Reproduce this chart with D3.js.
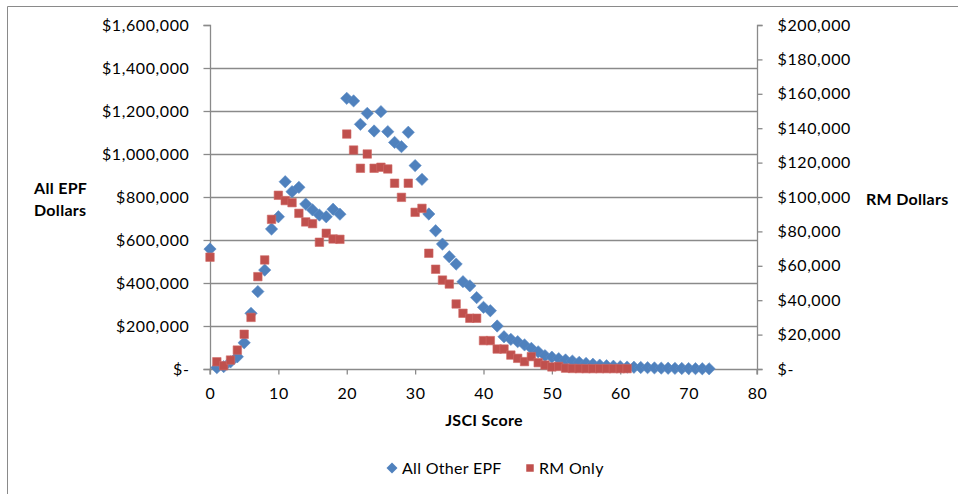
<!DOCTYPE html>
<html>
<head>
<meta charset="utf-8">
<script src="https://cdn.jsdelivr.net/npm/d3@7"></script>
<style>
  html, body { margin: 0; padding: 0; background: #fff; }
  svg { display: block; }
  text { font-family: Lato, "Open Sans", sans-serif; fill: #000; }
</style>
</head>
<body>
<svg id="chart" width="968" height="494"></svg>
<script>
// ---- data ----
const jsciScoresEPF = d3.range(0, 74);
const allOtherEPF = [
  558000, 6000, 11000, 33000, 57000, 122000, 259000, 360000, 460000, 651000,
  708000, 871000, 825000, 845000, 767000, 740000, 716000, 708000, 743000, 720000,
  1259000, 1247000, 1138000, 1189000, 1107000, 1197000, 1104000, 1054000, 1034000, 1101000,
  946000, 882000, 721000, 643000, 581000, 522000, 488000, 406000, 387000, 332000,
  287000, 271000, 200000, 150000, 138000, 127000, 112000, 96000, 80000, 62000,
  55000, 48000, 42000, 37000, 31000, 26000, 22000, 18000, 15000, 13000,
  11000, 9000, 8000, 7000, 6000, 5000, 4000, 3500, 3000, 2500,
  2000, 1500, 1000, 800
];
const jsciScoresRM = d3.range(0, 62);
const rmOnly = [
  65000, 4200, 1900, 5200, 11000, 20200, 30000, 53700, 63400, 87000,
  101000, 97900, 96700, 90500, 85500, 84500, 73700, 78900, 75600, 75400,
  136600, 127300, 116700, 125000, 116700, 117300, 116300, 108000, 99800, 108000,
  91100, 93400, 67300, 58000, 51700, 49400, 37800, 32400, 29500, 29500,
  16500, 16500, 11600, 11600, 8100, 6200, 4300, 7200, 3700, 2300,
  1200, 1500, 500, 300, 250, 200, 200, 200, 200, 200,
  200, 200
];
const xTicks = [0, 10, 20, 30, 40, 50, 60, 70, 80];
const leftTicks = [0, 200000, 400000, 600000, 800000, 1000000, 1200000, 1400000, 1600000];
const rightTicks = [0, 20000, 40000, 60000, 80000, 100000, 120000, 140000, 160000, 180000, 200000];
const seriesNames = ["All Other EPF", "RM Only"];
const seriesColors = ["#4F81BD", "#C0504D"];

// ---- layout ----
const svg = d3.select("#chart");
const plot = { left: 210, right: 757, top: 25, bottom: 369 };
const gridColor = "#8a8a8a";
const fmt = d => d === 0 ? "$-" : "$" + d3.format(",")(d);

const x = d3.scaleLinear().domain([0, 80]).range([plot.left, plot.right]);
const yL = d3.scaleLinear().domain([0, 1600000]).range([plot.bottom, plot.top]);
const yR = d3.scaleLinear().domain([0, 200000]).range([plot.bottom, plot.top]);

// outer chart border (top and left visible)
svg.append("path")
  .attr("d", "M7.5,494 L7.5,6.5 L958,6.5")
  .attr("fill", "none").attr("stroke", "#8a8a8a").attr("stroke-width", 1);

// gridlines
svg.append("g").selectAll("line")
  .data(leftTicks.filter(t => t > 0 && t < 1600000))
  .join("line")
  .attr("x1", plot.left).attr("x2", plot.right)
  .attr("y1", d => Math.round(yL(d)) + 0.5).attr("y2", d => Math.round(yL(d)) + 0.5)
  .attr("stroke", gridColor).attr("stroke-width", 1.3);

// left axis
const gL = svg.append("g").attr("transform", `translate(${plot.left + 0.5},0)`)
  .call(d3.axisLeft(yL).tickValues(leftTicks).tickFormat(fmt).tickSize(7).tickPadding(14));
// right axis
const gR = svg.append("g").attr("transform", `translate(${plot.right + 0.5},0)`)
  .call(d3.axisRight(yR).tickValues(rightTicks).tickFormat(fmt).tickSize(5).tickPadding(15));
// bottom axis
const gB = svg.append("g").attr("transform", `translate(0,${plot.bottom + 0.5})`)
  .call(d3.axisBottom(x).tickValues(xTicks).tickFormat(d3.format("d")).tickSize(5).tickPadding(13));

[gL, gR, gB].forEach(g => {
  g.select(".domain").attr("stroke", gridColor).attr("stroke-width", 1.3);
  g.selectAll(".tick line").attr("stroke", gridColor).attr("stroke-width", 1.3);
  g.selectAll(".tick text").attr("font-family", "Lato, sans-serif").attr("font-size", 16)
    .attr("letter-spacing", 0.6).attr("fill", "#000");
});
gL.select(".domain").attr("d", `M-7,${plot.top + 0.5}H0V${plot.bottom + 0.5}H-7`);
gR.select(".domain").attr("d", `M5,${plot.top + 0.5}H0V${plot.bottom + 0.5}H5`);
gB.select(".domain").attr("d", `M${plot.left},5V0H${plot.right}V5`);

// axis titles
svg.append("text").attr("x", 34).attr("y", 194).attr("font-size", 16).attr("font-weight", "bold")
  .attr("letter-spacing", 0.3).text("All EPF");
svg.append("text").attr("x", 34).attr("y", 216).attr("font-size", 16).attr("font-weight", "bold")
  .attr("letter-spacing", 0.3).text("Dollars");
svg.append("text").attr("x", 866).attr("y", 205).attr("font-size", 16).attr("font-weight", "bold")
  .attr("letter-spacing", 0.3).text("RM Dollars");
svg.append("text").attr("x", 484).attr("y", 426).attr("text-anchor", "middle")
  .attr("font-size", 16).attr("font-weight", "bold").attr("letter-spacing", 0.3).text("JSCI Score");

// markers
const diamond = {
  draw(ctx, size) {
    const r = Math.sqrt(size / 2);
    ctx.moveTo(0, -r); ctx.lineTo(r, 0); ctx.lineTo(0, r); ctx.lineTo(-r, 0); ctx.closePath();
  }
};
const diamondPath = d3.symbol().type(diamond).size(76)();
const squarePath = d3.symbol().type(d3.symbolSquare).size(72)();

svg.append("g").selectAll("path")
  .data(jsciScoresEPF.map((s, i) => [s, allOtherEPF[i]]))
  .join("path")
  .attr("d", diamondPath)
  .attr("transform", d => `translate(${x(d[0])},${yL(d[1])})`)
  .attr("fill", seriesColors[0]).attr("stroke", "#5a8bc6").attr("stroke-width", 0.6);

svg.append("g").selectAll("path")
  .data(jsciScoresRM.map((s, i) => [s, rmOnly[i]]))
  .join("path")
  .attr("d", squarePath)
  .attr("transform", d => `translate(${x(d[0])},${yR(d[1])})`)
  .attr("fill", seriesColors[1]).attr("stroke", "#d06a67").attr("stroke-width", 0.6);

// legend
const leg = svg.append("g");
leg.append("path").attr("d", d3.symbol().type(diamond).size(60)())
  .attr("transform", "translate(392,468)").attr("fill", seriesColors[0]);
leg.append("text").attr("x", 402).attr("y", 474).attr("font-size", 16).attr("letter-spacing", 0.3)
  .text(seriesNames[0]);
leg.append("path").attr("d", d3.symbol().type(d3.symbolSquare).size(56)())
  .attr("transform", "translate(530,468)").attr("fill", seriesColors[1]);
leg.append("text").attr("x", 539).attr("y", 474).attr("font-size", 16).attr("letter-spacing", 0.3)
  .text(seriesNames[1]);
</script>
</body>
</html>
